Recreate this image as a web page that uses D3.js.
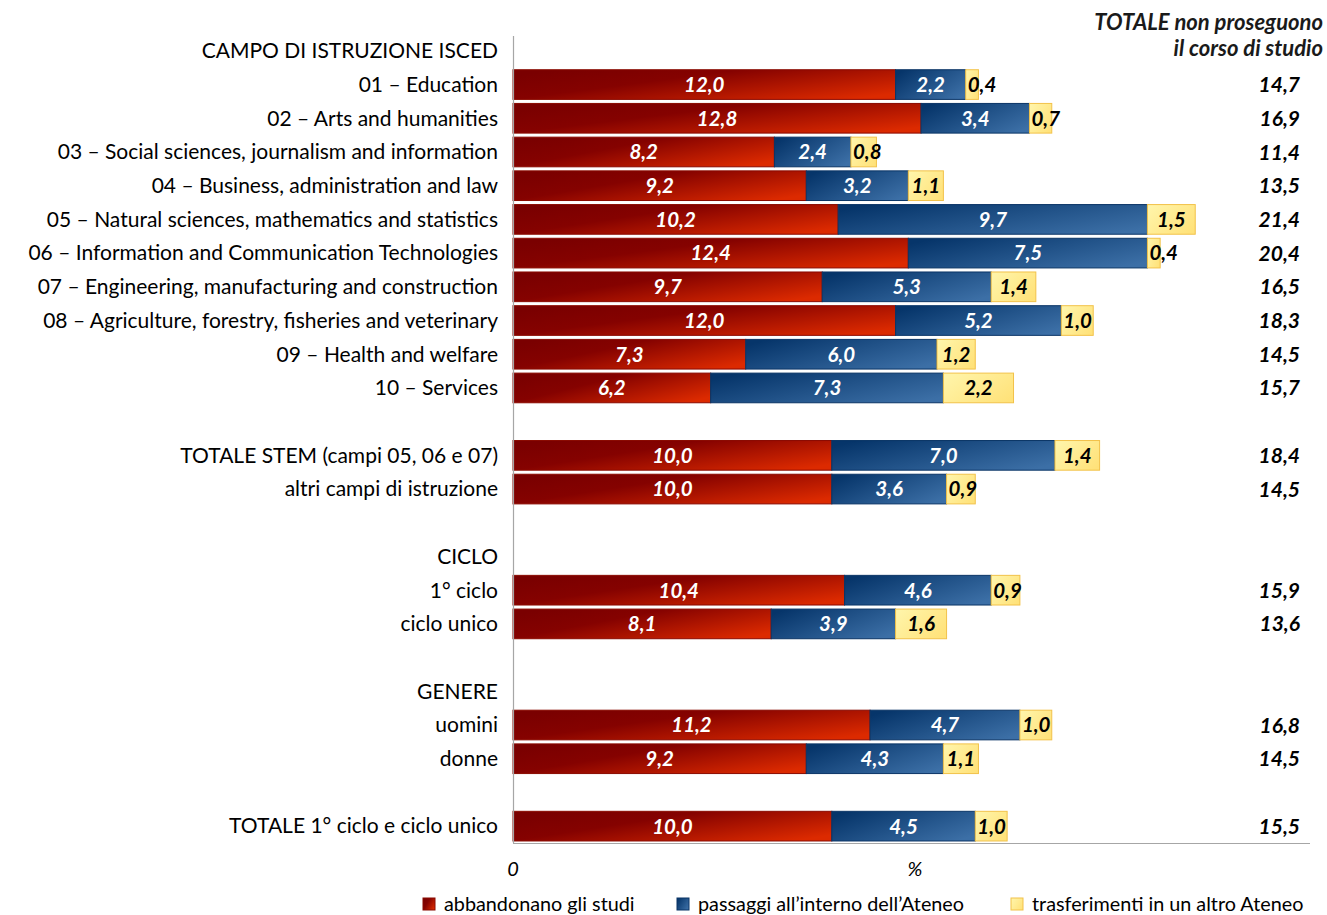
<!DOCTYPE html>
<html><head><meta charset="utf-8">
<script src="https://cdn.jsdelivr.net/npm/d3@7"></script>
<style>
html,body{margin:0;padding:0;background:#fff;}
svg{display:block;font-family:Lato,"Open Sans",sans-serif;}
</style></head>
<body>
<svg id="chart" width="1327" height="915"></svg>
<script>
const categories = ["CAMPO DI ISTRUZIONE ISCED","01 – Education","02 – Arts and humanities","03 – Social sciences, journalism and information","04 – Business, administration and law","05 – Natural sciences, mathematics and statistics","06 – Information and Communication Technologies","07 – Engineering, manufacturing and construction","08 – Agriculture, forestry, fisheries and veterinary","09 – Health and welfare","10 – Services","","TOTALE STEM (campi 05, 06 e 07)","altri campi di istruzione","","CICLO","1° ciclo","ciclo unico","","GENERE","uomini","donne","","TOTALE 1° ciclo e ciclo unico"];
const abbandonano   = [null,12.0,12.8,8.2,9.2,10.2,12.4,9.7,12.0,7.3,6.2,null,10.0,10.0,null,null,10.4,8.1,null,null,11.2,9.2,null,10.0];
const passaggi      = [null,2.2,3.4,2.4,3.2,9.7,7.5,5.3,5.2,6.0,7.3,null,7.0,3.6,null,null,4.6,3.9,null,null,4.7,4.3,null,4.5];
const trasferimenti = [null,0.4,0.7,0.8,1.1,1.5,0.4,1.4,1.0,1.2,2.2,null,1.4,0.9,null,null,0.9,1.6,null,null,1.0,1.1,null,1.0];
const totale        = [null,14.7,16.9,11.4,13.5,21.4,20.4,16.5,18.3,14.5,15.7,null,18.4,14.5,null,null,15.9,13.6,null,null,16.8,14.5,null,15.5];
const seriesNames = ["abbandonano gli studi","passaggi all’interno dell’Ateneo","trasferimenti in un altro Ateneo"];
const totalHeader = ["TOTALE non proseguono","il corso di studio"];
const axisLabels = ["0","%"];

const fmt = v => v.toFixed(1).replace(".", ",");
const svg = d3.select("#chart");
const x = d3.scaleLinear().domain([0,25]).range([513,1310]);
const y = d3.scaleBand().domain(d3.range(categories.length)).range([34,843]).paddingInner(0.12).paddingOuter(0.06);

const defs = svg.append("defs");
function grad(id, stops){
  const g = defs.append("linearGradient").attr("id",id).attr("x1","0").attr("y1","0.2").attr("x2","1").attr("y2","0.8");
  stops.forEach(s=>g.append("stop").attr("offset",s[0]).attr("stop-color",s[1]));
}
grad("gRed",[[0,"#7a0000"],[0.35,"#850200"],[1,"#dc2a00"]]);
grad("gBlue",[[0,"#06356a"],[1,"#3c6fa6"]]);
grad("gYel",[[0,"#fff4a8"],[1,"#ffe27a"]]);
const fills = ["url(#gRed)","url(#gBlue)","url(#gYel)"];
const strokes = ["#8a0a00","#0b3566","#f2c24a"];
const txtCol = ["#fff","#fff","#000"];
const series = [abbandonano, passaggi, trasferimenti];

// category labels
svg.append("g").selectAll("text").data(categories).join("text")
  .attr("x",498).attr("y",(d,i)=>y(i)+y.bandwidth()/2)
  .attr("dy","0.35em").attr("text-anchor","end")
  .attr("font-size",21).attr("fill","#000").text(d=>d);

// bars
const barG = svg.append("g");
categories.forEach((c,i)=>{
  if (abbandonano[i]==null) return;
  let cum = 0;
  series.forEach((s,k)=>{
    const v = s[i], x0 = x(cum), x1 = x(cum+v);
    barG.append("rect").attr("x",x0).attr("y",y(i)).attr("width",x1-x0).attr("height",y.bandwidth())
      .attr("fill",fills[k]).attr("stroke",strokes[k]).attr("stroke-width",1);
    cum += v;
  });
});
// labels
const labG = svg.append("g");
categories.forEach((c,i)=>{
  if (abbandonano[i]==null) return;
  let cum = 0;
  series.forEach((s,k)=>{
    const v = s[i], x0 = x(cum), x1 = x(cum+v);
    const t = labG.append("text").attr("y",y(i)+y.bandwidth()/2).attr("dy","0.36em")
      .attr("text-anchor","middle").attr("font-size",20.5).attr("font-weight","bold").attr("font-style","italic")
      .attr("fill",txtCol[k]).text(fmt(v));
    const w = t.node().getComputedTextLength();
    let cx = (x0+x1)/2;
    if (cx - w/2 < x0 + 2) cx = x0 + 2 + w/2;
    t.attr("x",cx);
    cum += v;
  });
  labG.append("text").attr("x",1300).attr("y",y(i)+y.bandwidth()/2).attr("dy","0.36em")
    .attr("text-anchor","end").attr("font-size",21).attr("font-weight","bold").attr("font-style","italic")
    .attr("fill","#000").text(fmt(totale[i]));
});

// header
svg.append("g").selectAll("text").data(totalHeader).join("text")
  .attr("x",1323).attr("y",(d,i)=>30+i*26).attr("text-anchor","end")
  .attr("font-size",22).attr("font-weight","bold").attr("font-style","italic").attr("fill","#1a1a1a").text(d=>d);

// axes lines
svg.append("line").attr("x1",513.5).attr("x2",513.5).attr("y1",36).attr("y2",843).attr("stroke","#a6a6a6").attr("stroke-width",1.2);
svg.append("line").attr("x1",513).attr("x2",1310).attr("y1",843.5).attr("y2",843.5).attr("stroke","#a6a6a6").attr("stroke-width",1.2);
svg.append("text").attr("x",x(0)).attr("y",876).attr("text-anchor","middle").attr("font-size",20).attr("font-style","italic").text(axisLabels[0]);
svg.append("text").attr("x",915).attr("y",876).attr("text-anchor","middle").attr("font-size",20).attr("font-style","italic").text(axisLabels[1]);

// legend
const legX = [423,677,1011];
const lg = svg.append("g");
seriesNames.forEach((n,k)=>{
  lg.append("rect").attr("x",legX[k]).attr("y",898).attr("width",12).attr("height",12)
    .attr("fill",fills[k]).attr("stroke",strokes[k]).attr("stroke-width",1);
  lg.append("text").attr("x",legX[k]+21).attr("y",911).attr("font-size",19.8).attr("fill","#000").text(n);
});
</script>
</body></html>
